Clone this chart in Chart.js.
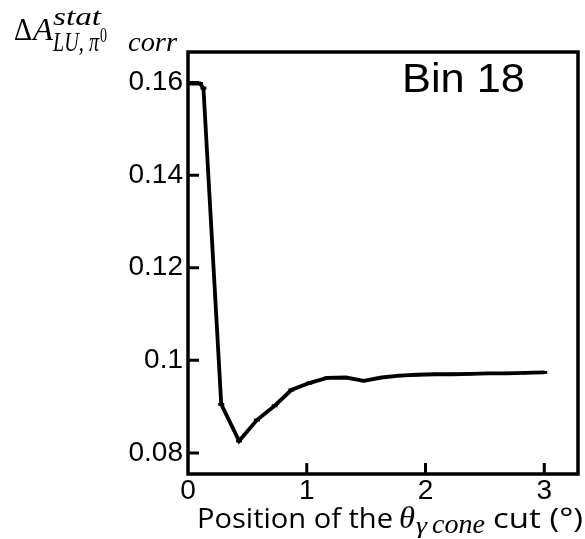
<!DOCTYPE html>
<html>
<head>
<meta charset="utf-8">
<script src="https://cdn.jsdelivr.net/npm/chart.js@4.4.1/dist/chart.umd.min.js"></script>
<style>
  html, body { margin: 0; padding: 0; background: #fff; }
  #wrap { width: 585px; height: 539px; position: relative; }
</style>
</head>
<body>
<div id="wrap"><canvas id="c" width="585" height="539"></canvas></div>
<script>
const cutPositions = [0, 0.1, 0.13, 0.28, 0.43, 0.58, 0.73, 0.87, 1.02, 1.17, 1.33, 1.48, 1.63, 1.78, 1.93, 2.08, 2.23, 2.38, 2.53, 2.68, 2.83, 3.0];
const statErrors   = [0.1598, 0.1598, 0.1588, 0.0905, 0.0826, 0.0871, 0.0902, 0.0936, 0.0951, 0.0962, 0.0963, 0.0956, 0.0963, 0.0967, 0.0969, 0.0970, 0.0970, 0.0971, 0.0972, 0.0972, 0.0973, 0.0974];
const xTicks = [0, 1, 2, 3];
const xTickLabels = ['0', '1', '2', '3'];
const yTicks = [0.08, 0.10, 0.12, 0.14, 0.16];
const yTickLabels = ['0.08', '0.1', '0.12', '0.14', '0.16'];
const binLabel = 'Bin 18';

function fitText(ctx, text, x, y, font, targetW) {
  ctx.save();
  ctx.font = font;
  const w = ctx.measureText(text).width;
  ctx.translate(x, y);
  if (targetW) ctx.scale(targetW / w, 1);
  ctx.fillText(text, 0, 0);
  ctx.restore();
}

const framePlugin = {
  id: 'frame',
  afterDraw(chart) {
    const { ctx, chartArea: a, scales } = chart;
    ctx.save();
    ctx.strokeStyle = '#000';
    ctx.fillStyle = '#000';
    ctx.lineWidth = 3.5;
    ctx.strokeRect(a.left, a.top, a.right - a.left, a.bottom - a.top);
    ctx.lineWidth = 3;
    ctx.beginPath();
    xTicks.forEach(v => {
      if (v === 0) return;
      const px = scales.x.getPixelForValue(v);
      ctx.moveTo(px, a.bottom); ctx.lineTo(px, a.bottom - 11);
    });
    yTicks.forEach(v => {
      const py = scales.y.getPixelForValue(v);
      ctx.moveTo(a.left, py); ctx.lineTo(a.left + 11, py);
    });
    ctx.stroke();
    ctx.textBaseline = 'alphabetic';
    ctx.textAlign = 'left';
    fitText(ctx, binLabel, 402, 92, '41px "Liberation Sans", Arial, sans-serif', 123);
    fitText(ctx, 'Δ', 14, 40, '31px "Liberation Serif", serif', 18);
    fitText(ctx, 'A', 33, 40, 'italic 31px "Liberation Serif", serif', 20);
    fitText(ctx, 'stat', 53, 25, 'italic 26px "Liberation Serif", serif', 48);
    fitText(ctx, 'LU, π', 53, 51, 'italic 28px "Liberation Serif", serif', 46);
    fitText(ctx, '0', 100, 42, '20px "Liberation Serif", serif', 7);
    fitText(ctx, 'corr', 128, 51, 'italic 28px "Liberation Serif", serif', 49);
    fitText(ctx, 'Position of the', 197, 528, '27px "Open Sans", sans-serif', 196);
    fitText(ctx, 'θ', 399, 528, 'italic 31px "Liberation Serif", serif', 16);
    fitText(ctx, 'γ', 416, 533, 'italic 24px "Liberation Serif", serif', 11);
    fitText(ctx, 'cone', 432, 533, 'italic 28px "Liberation Serif", serif', 53);
    fitText(ctx, 'cut (°)', 493, 528, '27px "Open Sans", sans-serif', 90);
    ctx.restore();
  }
};

new Chart(document.getElementById('c'), {
  type: 'line',
  data: {
    datasets: [{
      data: cutPositions.map((x, i) => ({ x: x, y: statErrors[i] })),
      borderColor: '#000',
      backgroundColor: '#000',
      borderWidth: 3.8,
      pointStyle: 'line',
      pointRadius: 3,
      pointBorderWidth: 3,
      pointBorderColor: '#000',
      tension: 0,
      fill: false
    }]
  },
  options: {
    responsive: false,
    animation: false,
    events: [],
    layout: { padding: { top: 52, right: 4, left: 0, bottom: 0 } },
    plugins: { legend: { display: false }, tooltip: { enabled: false } },
    scales: {
      x: {
        type: 'linear',
        min: 0,
        max: 3.284,
        border: { display: false },
        grid: { display: false, drawTicks: false },
        afterBuildTicks(s) { s.ticks = xTicks.map(v => ({ value: v })); },
        afterFit(s) { s.height = 65; },
        ticks: {
          padding: 0,
          maxRotation: 0,
          color: '#000',
          font: { family: '"Liberation Sans", Arial, sans-serif', size: 28 },
          callback: (v) => xTickLabels[xTicks.indexOf(v)]
        }
      },
      y: {
        type: 'linear',
        min: 0.07546,
        max: 0.1666,
        border: { display: false },
        grid: { display: false, drawTicks: false },
        afterBuildTicks(s) { s.ticks = yTicks.map(v => ({ value: v })); },
        afterFit(s) { s.width = 188; },
        ticks: {
          padding: 5,
          color: '#000',
          font: { family: '"Liberation Sans", Arial, sans-serif', size: 28 },
          callback: (v) => yTickLabels[yTicks.findIndex(t => Math.abs(t - v) < 1e-9)]
        }
      }
    }
  },
  plugins: [framePlugin]
});
</script>
</body>
</html>
